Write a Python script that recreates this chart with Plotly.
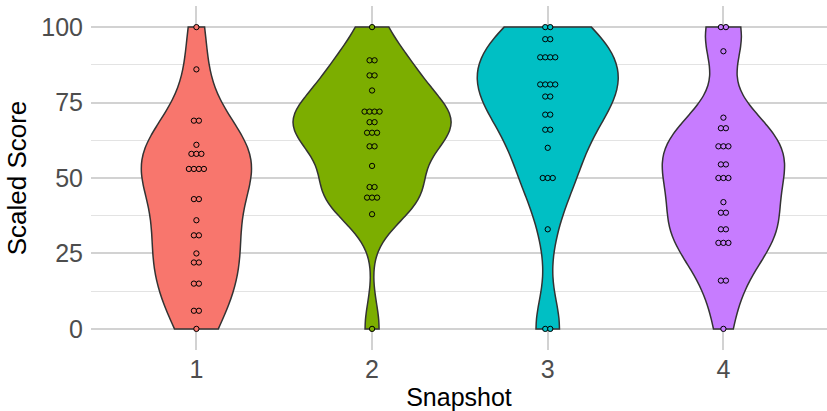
import numpy as np
import plotly.graph_objects as go

# Scaled scores for each snapshot (25 students per snapshot)
snapshots = [1, 2, 3, 4]
colors = ["#F8766D", "#7CAE00", "#00BFC4", "#C77CFF"]

scores_1 = [100, 86, 69, 69, 61, 58, 58, 58, 53, 53, 53, 53, 43, 43, 36,
            31, 31, 25, 22, 22, 15, 15, 6, 6, 0]
scores_2 = [100, 89, 89, 84, 84, 79, 72, 72, 72, 72, 68.5, 68.5, 65, 65, 65,
            60.5, 60.5, 54, 47, 47, 43.5, 43.5, 43.5, 38, 0]
scores_3 = [100, 100, 96, 96, 90, 90, 90, 90, 81, 81, 81, 81, 77, 77, 71, 71,
            66, 66, 60, 50, 50, 50, 33, 0, 0]
scores_4 = [100, 100, 92, 70, 66.5, 66.5, 60.5, 60.5, 60.5, 54.5, 54.5, 50, 50,
            50, 42, 38.5, 38.5, 33, 33, 28.5, 28.5, 28.5, 16, 16, 0]
all_scores = [scores_1, scores_2, scores_3, scores_4]

y_ticks = [0, 25, 50, 75, 100]


def nrd0(values):
    """Silverman's rule of thumb as used by R's bw.nrd0."""
    v = np.asarray(values, dtype=float)
    sd = v.std(ddof=1)
    iqr = np.subtract(*np.percentile(v, [75, 25]))
    lo = min(sd, iqr / 1.34) if iqr > 0 else sd
    return 0.9 * lo * len(v) ** (-0.2)


fig = go.Figure()

# Violins: trimmed to the data range, one shared scale so areas are equal
for snap, vals, col in zip(snapshots, all_scores, colors):
    fig.add_trace(go.Violin(
        x=[snap] * len(vals), y=vals,
        points=False, spanmode="hard", bandwidth=nrd0(vals),
        scalegroup="scores", scalemode="count",
        fillcolor=col, opacity=1,
        line=dict(color="#333333", width=1.5),
        meanline_visible=False, box_visible=False,
        showlegend=False, hoverinfo="skip",
    ))

# Centered dot stacks for each distinct score
dot_step = 0.0285
for snap, vals, col in zip(snapshots, all_scores, colors):
    xs, ys = [], []
    for v in sorted(set(vals), reverse=True):
        n = vals.count(v)
        for i in range(n):
            xs.append(snap + (i - (n - 1) / 2) * dot_step)
            ys.append(v)
    fig.add_trace(go.Scatter(
        x=xs, y=ys, mode="markers",
        marker=dict(size=5.3, color=col, line=dict(color="black", width=1)),
        showlegend=False, hoverinfo="skip",
    ))

fig.update_layout(
    width=827, height=411,
    margin=dict(l=91, r=0, t=6, b=61),
    plot_bgcolor="white", paper_bgcolor="white",
    font=dict(family="Liberation Sans, Arial, sans-serif"),
    violinmode="overlay", violingap=0.1, violingroupgap=0,
)

fig.update_xaxes(
    range=[0.4, 0.4 + 736 / 175.67],
    tickvals=snapshots, ticktext=[str(s) for s in snapshots],
    tickfont=dict(size=25, color="#4D4D4D"),
    showgrid=True, gridcolor="#D2D2D2", gridwidth=1.6,
    zeroline=False, showline=False, ticks="",
    ticklabelstandoff=2,
    title=dict(text="Snapshot", font=dict(size=25, color="black"), standoff=6),
)

fig.update_yaxes(
    range=[-7, 107],
    tickvals=y_ticks, ticktext=[str(t) for t in y_ticks],
    tickfont=dict(size=25, color="#4D4D4D"),
    showgrid=True, gridcolor="#D2D2D2", gridwidth=1.6,
    minor=dict(tickvals=[12.5, 37.5, 62.5, 87.5], showgrid=True,
               gridcolor="#E3E3E3", gridwidth=0.8),
    zeroline=False, showline=False, ticks="",
    ticklabelstandoff=7,
    title=dict(text="Scaled Score", font=dict(size=26, color="black"), standoff=7),
)

fig.write_html("out.html")
